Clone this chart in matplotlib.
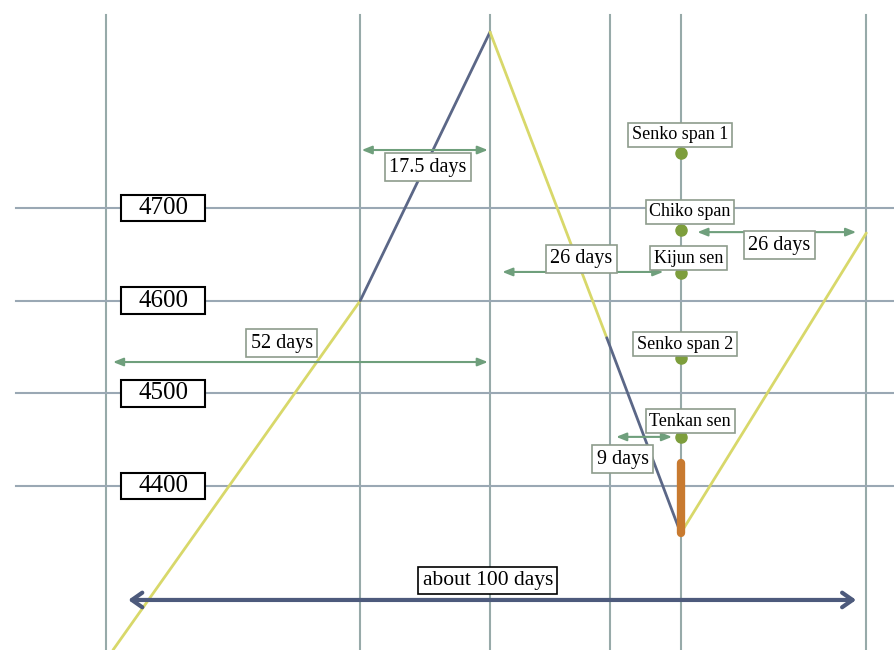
import matplotlib.pyplot as plt
from matplotlib.patches import Rectangle

# ---- data (days on x, index price on y) ----
grid_days = [-1.0, 34.1, 52.0, 68.6, 78.3, 103.9]
grid_prices = [4700, 4600, 4500, 4400]

# price path: yellow up, blue up, yellow down, blue down, yellow up
seg_days = [[0.0, 34.1], [34.1, 52.0], [52.0, 68.1], [68.1, 78.3], [78.3, 103.9]]
seg_prices = [[4223, 4600], [4600, 4890], [4890, 4560], [4560, 4349], [4349, 4673]]
seg_colors = ['#d8d86a', '#5b6787', '#d8d86a', '#5b6787', '#d8d86a']

# ichimoku points at the bottom day
point_names = ['Senko span 1', 'Chiko span', 'Kijun sen', 'Senko span 2', 'Tenkan sen']
point_prices = [4759, 4676, 4630, 4538, 4453]
point_day = 78.3
label_pos = [(78.2, 4779), (79.6, 4696), (79.4, 4646), (78.9, 4553), (79.6, 4470)]

# candle (orange bar)
bar_low, bar_high = 4349, 4425

# day-count arrows: (start, end, price, label, label_x, label_y)
spans = [
    (34.3, 51.7, 4762.6, '17.5 days', 43.4, 4744),
    (0.0, 51.7, 4533.8, '52 days', 23.3, 4554),
    (53.7, 75.9, 4631, '26 days', 64.6, 4645),
    (80.6, 102.5, 4674, '26 days', 91.9, 4660),
    (69.4, 77.1, 4453, '9 days', 70.3, 4429),
]
total_span = (2.1, 102.5, 4277, 'about 100 days', 51.7, 4298)

# ---- figure ----
fig = plt.figure(figsize=(8.94, 6.5), dpi=100)
ax = fig.add_axes([0, 0, 1, 1])
ax.set_xlim(-15.586, 107.72)
ax.set_ylim(4223.0, 4924.5)
ax.axis('off')

serif = 'Liberation Serif'
grid_col = '#97aaa9'
arrow_col = '#6f9f7c'
edge_col = '#8e9c8c'

for d in grid_days:
    ax.plot([d, d], [4223, 4908], color=grid_col, lw=1.5, zorder=1)
for p in grid_prices:
    ax.plot([-13.4, 107.72], [p, p], color='#9aa8b4', lw=1.5, zorder=1)

for xs, ys, c in zip(seg_days, seg_prices, seg_colors):
    ax.plot(xs, ys, color=c, lw=2, zorder=2, solid_capstyle='round')

# price boxes
for p in grid_prices:
    ax.add_patch(Rectangle((6.9 - 5.85, p - 14.5), 11.7, 29, facecolor='white',
                           edgecolor='black', lw=1.5, zorder=4))
    ax.text(6.9, p, str(p), fontsize=18, family=serif, ha='center', va='center', zorder=5)

for x0, x1, y, lab, lx, ly in spans:
    ax.annotate('', xy=(x1, y), xytext=(x0, y),
                arrowprops=dict(arrowstyle='<|-|>,head_length=0.5,head_width=0.2',
                                color=arrow_col, lw=1.5, mutation_scale=12,
                                shrinkA=0, shrinkB=0), zorder=3)
    ax.text(lx, ly, lab, fontsize=14.5, family=serif, ha='center', va='center', zorder=5,
            bbox=dict(boxstyle='square,pad=0.22', facecolor='white', edgecolor=edge_col, lw=1.2))

x0, x1, y, lab, lx, ly = total_span
ax.annotate('', xy=(x1, y), xytext=(x0, y),
            arrowprops=dict(arrowstyle='<->,head_length=0.5,head_width=0.35',
                            color='#4d5a7c', lw=3, mutation_scale=15,
                            shrinkA=0, shrinkB=0), zorder=3)
ax.text(lx, ly, lab, fontsize=15.5, family=serif, ha='center', va='center', zorder=5,
        bbox=dict(boxstyle='square,pad=0.2', facecolor='white', edgecolor='black', lw=1.2))

# orange bar
ax.plot([point_day, point_day], [bar_low, bar_high], color='#c87a30', lw=6,
        solid_capstyle='round', zorder=3)

ax.plot([point_day] * len(point_prices), point_prices, 'o', color='#7d9e3c',
        markersize=8, zorder=4)
for name, (lx, ly) in zip(point_names, label_pos):
    ax.text(lx, ly, name, fontsize=13, family=serif, ha='center', va='center', zorder=5,
            bbox=dict(boxstyle='square,pad=0.2', facecolor='white', edgecolor=edge_col, lw=1.2))

fig.savefig('out.png', dpi=100)
